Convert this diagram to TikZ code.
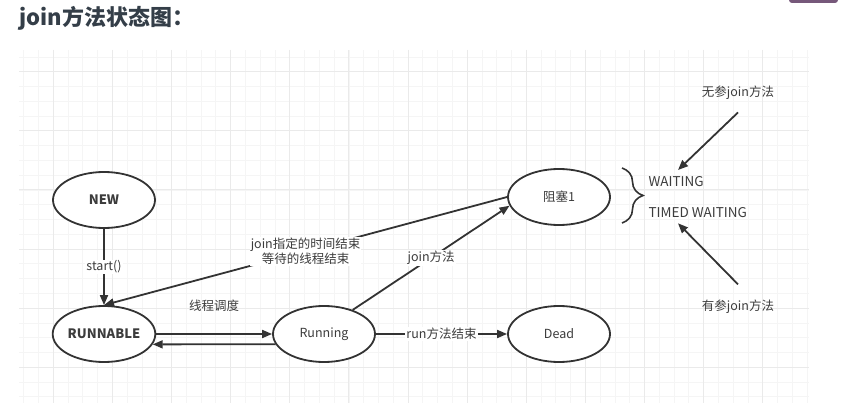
\documentclass[tikz,border=0pt]{standalone}
\usepackage{fontspec}
\setmainfont{Noto Sans CJK SC}
\usetikzlibrary{positioning,shapes.geometric,arrows.meta,decorations.pathreplacing}
\definecolor{lineGray}{RGB}{51,51,51}
\definecolor{textGray}{RGB}{60,60,60}
\definecolor{titleGray}{RGB}{52,62,72}
\definecolor{gridMinor}{RGB}{245,245,245}
\definecolor{gridMajor}{RGB}{234,234,234}
\definecolor{tabPurple}{RGB}{118,88,122}

\begin{document}
\begin{tikzpicture}[x = 1pt, y = -1pt, node distance = 134pt, > = {Triangle[length = 10pt, width = 8pt]}, font = \fontsize{12.5}{15.5}\selectfont, text = textGray]
\tikzset{
  state/.style = {draw = lineGray, line width = 1.8pt, ellipse, fill = white, minimum width = 102pt, minimum height = 56pt, inner sep = 0pt},
  boldState/.style = {state, font = \fontsize{13}{15}\selectfont\bfseries},
  edge/.style = {draw = lineGray, line width = 1.8pt, ->},
  tag/.style = {fill = white, inner sep = 1pt, align = center},
  minorLine/.style = {draw = gridMinor, line width = 0.8pt},
  majorLine/.style = {draw = gridMajor, line width = 1pt},
}
\useasboundingbox (0,0) rectangle (842,403);
\fill [tabPurple, rounded corners = 3pt] (789,-5) rectangle (838,3);
\node [anchor = west, font = \fontsize{22}{26}\selectfont\bfseries, text = titleGray] (title) at (16,18) {join方法状态图：};

\foreach \k in {-2,...,51} \draw [minorLine] ({53.3+14.78*\k},50) -- ({53.3+14.78*\k},403);
\foreach \k in {-1,...,22} \draw [minorLine] (19,{71.7+14.78*\k}) -- (809,{71.7+14.78*\k});
\foreach \k in {0,4,...,48} \draw [majorLine] ({53.3+14.78*\k},50) -- ({53.3+14.78*\k},403);
\foreach \k in {0,4,...,20} \draw [majorLine] (19,{71.7+14.78*\k}) -- (809,{71.7+14.78*\k});

\node [boldState] (runnable) at (104,334) {RUNNABLE};
\node [boldState, above of = runnable] (new) {NEW};
\node [state, right of = runnable, node distance = 220pt] (running) {Running};
\node [state, right of = running, node distance = 235pt] (dead) {Dead};
\node [state, above of = dead, node distance = 137pt] (block1) {阻塞1};

\node [anchor = west, font = \fontsize{13.5}{16}\selectfont] (waiting) at (645,181.7) {WAITING};
\node [anchor = west, font = \fontsize{13.5}{16}\selectfont] (timedWaiting) at (645,212.7) {TIMED WAITING};
\node (noArgJoin) at (738,92.7) {无参join方法};
\node (argJoin) at (738,306.7) {有参join方法};
\coordinate (waitTip) at (678,170);
\coordinate (timedTip) at (678,223.3);

\draw [lineGray, line width = 1.6pt, decorate, decoration = {brace, amplitude = 21pt}] (622,168) -- (622,223);

\draw [edge] (new) -- node[tag]{start()} (runnable);
\draw [edge] (block1.west) -- node[tag]{join指定的时间结束\\等待的线程结束} (runnable.north);
\draw [edge] (running.40) -- node[tag]{join方法} (block1.190);
\draw [edge] (running) -- node[tag]{run方法结束} (dead);
\draw [edge] (runnable) -- node[above = 18pt]{线程调度} (running);
\draw [edge] (running.-168) -- (runnable.-12);
\draw [edge] ([yshift = -9.4pt]noArgJoin.south) -- (waitTip);
\draw [edge] ([yshift = 12pt]argJoin.north) -- (timedTip);
\end{tikzpicture}
\end{document}
